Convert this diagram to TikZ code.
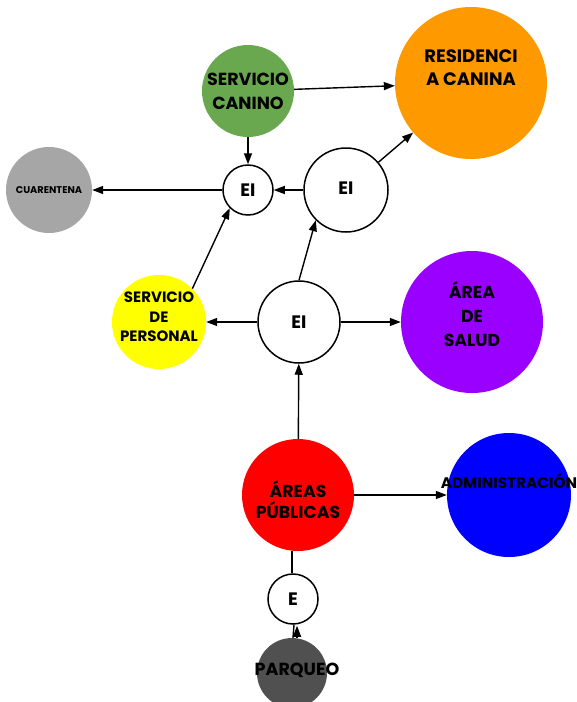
\documentclass[tikz,border=0pt]{standalone}
\usepackage{fontspec}
\setmainfont{Poppins}
\usetikzlibrary{arrows.meta}
\definecolor{cgreen}{HTML}{6AA84F}
\definecolor{corange}{HTML}{FF9900}
\definecolor{cgrayq}{HTML}{A6A6A6}
\definecolor{cyel}{HTML}{FFFF00}
\definecolor{cpurp}{HTML}{9900FF}
\definecolor{cred}{HTML}{FF0000}
\definecolor{cblue}{HTML}{0000FF}
\definecolor{cdark}{HTML}{505050}
\tikzset{
  circ/.style={circle, inner sep=0pt, minimum size=#1},
  eib/.style={circle, draw=black, line width=1.5pt, fill=white, inner sep=0pt, minimum size=#1},
  txt/.style={align=center, text=black, inner sep=0pt},
  arr/.style={-{Triangle[length=11pt,width=8pt]}, line width=1.4pt},
  plain/.style={line width=1.4pt},
  big/.style={font=\bfseries\fontsize{17.5}{24}\selectfont},
  eitxt/.style={font=\bfseries\fontsize{18}{22}\selectfont},
  mid/.style={font=\bfseries\fontsize{15}{19.5}\selectfont},
}
\begin{document}
\begin{tikzpicture}[x=1pt,y=-1pt]
\useasboundingbox (0,0) rectangle (577,702);
% circles
\node[circ=92, fill=cgreen, txt, big] (sc) at (248,91) {SERVICIO\\CANINO};
\node[circ=152, fill=corange] (rc) at (471,83) {};
\node[txt, font=\bfseries\fontsize{18}{23}\selectfont] (rctxt) at (471,68) {RESIDENCI\\A CANINA};
\node[circ=86, fill=cgrayq, txt, font=\bfseries\fontsize{9.8}{11}\selectfont] (cu) at (49,190) {CUARENTENA};
\node[eib=50, txt, eitxt] (eis) at (248,190) {EI};
\node[eib=84] (eim) at (346,190) {};
\node[txt, eitxt] (eimtxt) at (346,188) {EI};
\node[circ=94, fill=cyel] (sp) at (159,322) {};
\node[txt, mid] (sptxt) at (159,317) {SERVICIO\\DE\\PERSONAL};
\node[eib=82, txt, eitxt] (eic) at (299,322) {EI};
\node[circ=142, fill=cpurp] (sa) at (472,322) {};
\node[txt, font=\bfseries\fontsize{17.3}{24}\selectfont] (satxt) at (472,314) {ÁREA\\DE\\SALUD};
\node[circ=112, fill=cred] (ap) at (298,495) {};
\node[txt, font=\bfseries\fontsize{17.3}{21}\selectfont] (aptxt) at (298,500) {ÁREAS\\PÚBLICAS};
\node[circ=124, fill=cblue] (ad) at (509,495) {};
\node[txt, font=\bfseries\fontsize{15.3}{18}\selectfont] (adtxt) at (509,481) {ADMINISTRACIÓN};
\node[eib=50, txt, eitxt] (e) at (293,599) {E};
\node[circ=70, fill=cdark] (pq) at (292,673) {};
\node[txt, font=\bfseries\fontsize{17.5}{20}\selectfont] (pqtxt) at (297,670) {PARQUEO};
% connectors
\draw[arr] (sc) -- (rc);
\draw[arr] (sc) -- (eis);
\draw[arr] (eis) -- (cu);
\draw[arr] (eim) -- (eis);
\draw[arr] (eim) -- (rc);
\draw[arr] (sp.north east) -- (eis.south west);
\draw[arr] (eic.north) -- (eim.south west);
\draw[arr] (eic) -- (sp);
\draw[arr] (eic) -- (sa);
\draw[arr] (ap) -- (eic);
\draw[arr] (ap) -- (ad);
\draw[plain] ([xshift=-1pt]e.north) -- ([xshift=-1pt]e.north |- ap.south);
\draw[plain] ([xshift=1pt]pq.north) -- ([xshift=1pt]e.south);
\draw[arr] ([xshift=5pt]pq.north) -- ([xshift=4pt,yshift=-1pt]e.south);
\end{tikzpicture}
\end{document}
